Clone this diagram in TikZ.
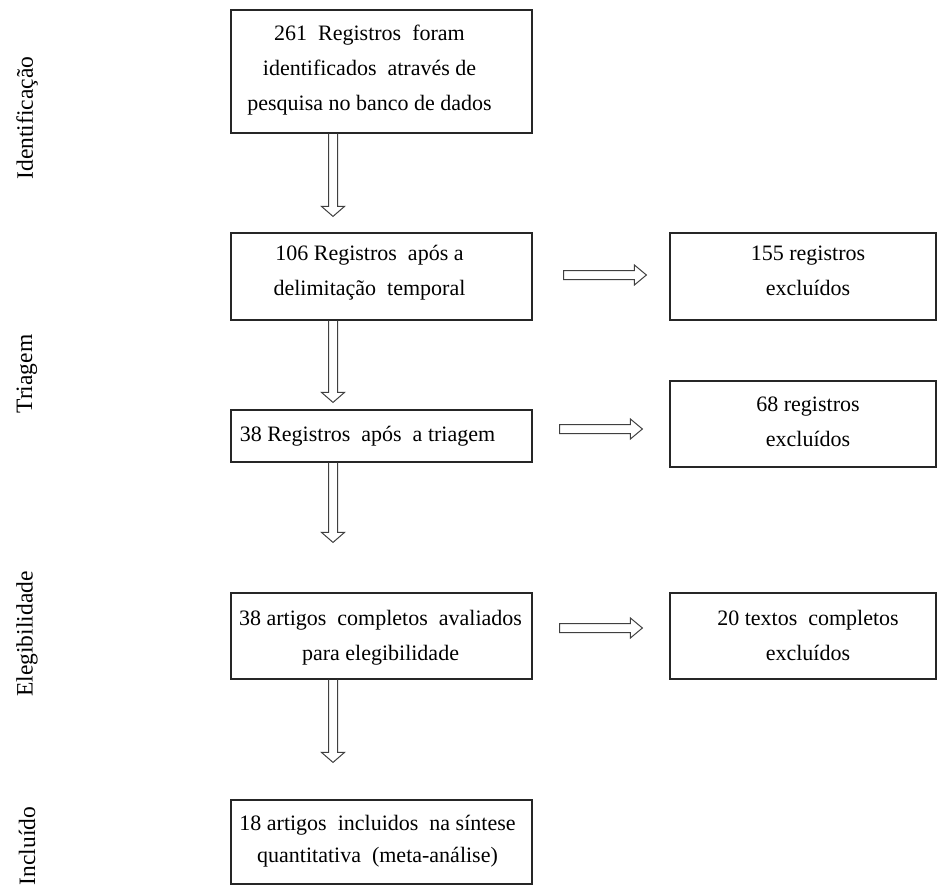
\documentclass[tikz,border=0pt]{standalone}
\usepackage{fontspec}
\setmainfont{Liberation Serif}
\usetikzlibrary{calc}
\tikzset{
 box/.style={draw=black!85, line width=1.2pt, inner sep=0pt, minimum width=301pt},
 rbox/.style={box, minimum width=266pt},
 txt/.style={font=\fontsize{22}{35}\selectfont, align=center, inner sep=0pt, anchor=north},
 lab/.style={font=\fontsize{23.5}{26}\selectfont, rotate=90, inner sep=0pt},
 arr/.style={draw=black!75, line width=1pt, line join=miter},
}
\newcommand\vdarrow[2]{\path[arr] let \p1=(#1), \p2=(#2) in (\x1-4.5pt,\y1) -- (\x1-4.5pt,\y2+10pt) -- (\x1-11.5pt,\y2+10pt) -- (\x1,\y2) -- (\x1+11.5pt,\y2+10pt) -- (\x1+4.5pt,\y2+10pt) -- (\x1+4.5pt,\y1);}
\newcommand\hdarrow[2]{\path[arr] let \p1=(#1), \p2=(#2) in (\x1,\y1+4.5pt) -- (\x2-12pt,\y1+4.5pt) -- (\x2-12pt,\y1+10pt) -- (\x2,\y1) -- (\x2-12pt,\y1-10pt) -- (\x2-12pt,\y1-4.5pt) -- (\x1,\y1-4.5pt) -- cycle;}
\begin{document}
\begin{tikzpicture}[x=1pt, y=-1pt]
\useasboundingbox (0,0) rectangle (938,886);
% left column boxes
\node[box, minimum height=123pt] (b1) at (381.5,71.5) {};
\node[box, minimum height=87pt] (b2) at (381.5,276.5) {};
\node[box, minimum height=52pt] (b3) at (381.5,436) {};
\node[box, minimum height=86pt] (b4) at (381.5,636) {};
\node[box, minimum height=84pt] (b5) at (381.5,842) {};
% right column boxes
\node[rbox, minimum height=87pt] (r1) at (803,276.5) {};
\node[rbox, minimum height=86pt] (r2) at (803,424) {};
\node[rbox, minimum height=86pt] (r3) at (803,636) {};
% texts
\node[txt] (t1) at ($(b1.north)+(-12,15)$) {\rule{0pt}{16pt}261~ Registros~ foram\\identificados~ através de\\pesquisa no banco de dados};
\node[txt] (t2) at ($(b2.north)+(-12,12)$) {\rule{0pt}{16pt}106 Registros~ após a\\delimitação~ temporal};
\node[txt] (t3) at ($(b3.north)+(-14,16)$) {\rule{0pt}{16pt}38 Registros~ após~ a triagem};
\node[txt] (t4) at ($(b4.north)+(-1,17)$) {\rule{0pt}{16pt}38 artigos~ completos~ avaliados\\para elegibilidade};
\node[txt, font=\fontsize{22}{32}\selectfont] (t5) at ($(b5.north)+(-4,15)$) {\rule{0pt}{16pt}18 artigos~ incluidos~ na síntese\\quantitativa~ (meta-análise)};
\node[txt] (s1) at ($(r1.north)+(5,12)$) {\rule{0pt}{16pt}155 registros\\excluídos};
\node[txt] (s2) at ($(r2.north)+(5,15)$) {\rule{0pt}{16pt}68 registros\\excluídos};
\node[txt] (s3) at ($(r3.north)+(5,17)$) {\rule{0pt}{16pt}20 textos~ completos\\excluídos};
% side labels
\node[lab] (l1) at (27,118) {Identificação};
\node[lab] (l2) at (27,374) {Triagem};
\node[lab] (l3) at (27,634) {Elegibilidade};
\node[lab] (l4) at (27,846) {Incluído};
% vertical arrows
\coordinate (ax) at (333,0);
\vdarrow{b1.south -| ax}{$(b2.north -| ax)+(0,-16)$}
\vdarrow{b2.south -| ax}{$(b3.north -| ax)+(0,-7)$}
\vdarrow{b3.south -| ax}{$(b4.north -| ax)+(0,-50)$}
\vdarrow{b4.south -| ax}{$(b5.north -| ax)+(0,-37)$}
% horizontal arrows
\hdarrow{$(b2.east)+(31,-1.5)$}{$(r1.west)+(-23,-1.5)$}
\hdarrow{$(b3.east)+(27,-7)$}{$(r2.west)+(-27,5)$}
\hdarrow{$(b4.east)+(27,-8)$}{$(r3.west)+(-27,-8)$}
\end{tikzpicture}
\end{document}
